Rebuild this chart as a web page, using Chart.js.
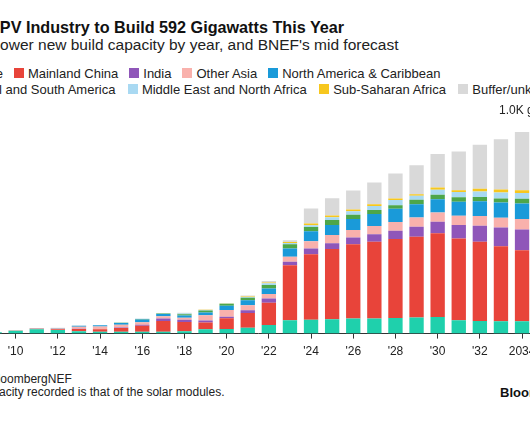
<!DOCTYPE html>
<html>
<head>
<meta charset="utf-8">
<script src="https://cdn.jsdelivr.net/npm/chart.js@4"></script>
<style>
  html, body { margin: 0; padding: 0; background: #fff; }
  body { width: 530px; height: 442px; overflow: hidden; position: relative;
         font-family: "Liberation Sans", Arial, sans-serif; color: #111; }
  #page { position: absolute; left: -55px; top: 0; width: 700px; height: 442px; }
  .txt { position: absolute; white-space: nowrap; line-height: 1; }
  #title { top: 19px; left: 0; font-size: 16.2px; font-weight: bold; }
  #subtitle { top: 37px; left: 6px; font-size: 15.5px; color: #222; }
  .legendRow { position: absolute; height: 16px; display: flex; align-items: center;
               font-size: 13px; color: #222; white-space: nowrap; }
  .item { display: flex; align-items: center; }
  #row1 .item { margin-right: 11px; }
  #row2 .item { margin-right: 12.5px; }
  .sw { width: 10px; height: 10px; margin-right: 4px; }
  #src { top: 373px; left: 0; font-size: 12px; color: #222; }
  #note { top: 386px; left: 0; font-size: 12px; color: #222; }
  #logo { position: absolute; top: 386px; left: 500px; font-size: 13px; font-weight: bold;
          line-height: 1; white-space: nowrap; color: #111; }
  #wrap { position: absolute; left: -16px; top: 100px; width: 620px; height: 265px; }
</style>
</head>
<body>
<div id="page">
  <div id="title" class="txt">Global PV Industry to Build 592 Gigawatts This Year</div>
  <div id="subtitle" class="txt">Solar power new build capacity by year, and BNEF's mid forecast</div>
  <div id="row1" class="legendRow" style="top:65px; left:2px"></div>
  <div id="row2" class="legendRow" style="top:81px; left:1px"></div>
  <div id="src" class="txt">Source: BloombergNEF</div>
  <div id="note" class="txt">Note: Capacity recorded is that of the solar modules.</div>
</div>
<div id="logo">Bloomberg</div>
<div id="wrap"><canvas id="solarChart" width="620" height="265"></canvas></div>

<script>
const years = [2009, 2010, 2011, 2012, 2013, 2014, 2015, 2016, 2017, 2018, 2019, 2020, 2021,
               2022, 2023, 2024, 2025, 2026, 2027, 2028, 2029, 2030, 2031, 2032, 2033, 2034];

// gigawatts per year
const europe       = [6, 14, 21, 17, 11, 9, 9, 9, 9, 11, 21, 22, 28, 41, 63, 66, 68, 71, 71, 74, 76, 79, 63, 60, 58, 58];
const china        = [0, 0.5, 2, 3, 11, 11, 18, 28, 51, 44, 31, 51, 69, 105, 260, 309, 332, 351, 363, 373, 382, 395, 387, 374, 355, 336];
const india        = [0, 0, 0, 1, 1, 1, 2, 5, 11, 11, 10, 7, 13, 20, 16, 27, 27, 32, 36, 39, 47, 55, 63, 76, 88, 98];
const otherAsia    = [0, 0, 1, 3, 9, 12, 13, 12, 11, 9, 25, 32, 24, 21, 24, 35, 39, 36, 38, 41, 44, 43, 44, 46, 46, 49];
const northAmerica = [0, 0, 1, 3, 5, 6, 8, 13, 11, 11, 13, 20, 24, 26, 39, 47, 47, 51, 57, 63, 62, 63, 66, 69, 73, 74];
const latAm        = [0, 0, 0, 0, 0, 0, 1, 2, 2, 6, 9, 9, 11, 17, 20, 20, 24, 21, 19, 17, 21, 21, 21, 21, 19, 22];
const mena         = [0, 0, 0, 0, 0, 0, 1, 1, 1, 4, 3, 1, 4, 8, 6, 8, 13, 16, 19, 24, 19, 24, 25, 25, 28, 28];
const subSaharan   = [0, 0, 0, 0, 0, 0, 0, 0, 0, 1, 1, 1, 2, 3, 5, 8, 8, 8, 8, 8, 8, 11, 9, 13, 14, 13];
const buffer       = [1, 1, 2, 1, 1, 1, 1, 1, 1, 2, 1, 1, 5, 8, 8, 71, 82, 90, 103, 118, 137, 158, 182, 208, 237, 275];

const seriesNames = ['Europe', 'Mainland China', 'India', 'Other Asia', 'North America & Caribbean',
                     'Central and South America', 'Middle East and North Africa', 'Sub-Saharan Africa', 'Buffer/unknown'];
const seriesData = [europe, china, india, otherAsia, northAmerica, latAm, mena, subSaharan, buffer];
const seriesColors = ['#1fd0ac', '#e8443a', '#8f56b9', '#f9b1ac', '#1a9ad9',
                      '#4da64a', '#a9d9f2', '#f7c71e', '#d9d9d9'];

// html legend, two rows like the original
seriesNames.forEach((name, i) => {
    const row = document.getElementById(i < 5 ? 'row1' : 'row2');
    const item = document.createElement('div');
    item.className = 'item';
    item.innerHTML = '<div class="sw" style="background:' + seriesColors[i] + '"></div>' + name;
    row.appendChild(item);
});

const topLabel = {
    id: 'topLabel',
    afterDraw(chart) {
        const ctx = chart.ctx;
        const y = chart.scales.y.getPixelForValue(1000);
        ctx.save();
        ctx.font = '12px "Liberation Sans", Arial, sans-serif';
        ctx.fillStyle = '#222';
        ctx.textBaseline = 'alphabetic';
        ctx.fillText('1.0K gigawatts', 515, y - 8.5);
        ctx.restore();
    }
};

const ctx = document.getElementById('solarChart').getContext('2d');
const solarChart = new Chart(ctx, {
    type: 'bar',
    data: {
        labels: years,
        datasets: seriesNames.map((name, i) => ({
            label: name,
            data: seriesData[i],
            backgroundColor: seriesColors[i],
            borderWidth: 0,
            barPercentage: 0.68,
            categoryPercentage: 1
        }))
    },
    options: {
        responsive: false,
        animation: false,
        layout: { padding: { top: 22, right: 71.4, left: 0, bottom: 0 } },
        plugins: {
            legend: { display: false },
            tooltip: { enabled: false }
        },
        scales: {
            x: {
                stacked: true,
                offset: true,
                grid: {
                    offset: false,
                    drawOnChartArea: false,
                    drawTicks: true,
                    tickLength: 5,
                    tickColor: (c) => (years[c.index] % 2 === 0 ? '#333' : 'rgba(0,0,0,0)')
                },
                border: { display: true, color: '#333', width: 1 },
                ticks: {
                    autoSkip: false,
                    maxRotation: 0,
                    padding: 6,
                    color: '#222',
                    font: { family: '"Liberation Sans", Arial, sans-serif', size: 12 },
                    callback: function (value, index) {
                        const yr = years[index];
                        if (yr % 2 !== 0) return '';
                        return yr === 2034 ? '2034' : "'" + String(yr).slice(2);
                    }
                }
            },
            y: {
                stacked: true,
                display: false,
                min: 0,
                max: 1000
            }
        }
    },
    plugins: [topLabel]
});
</script>
</body>
</html>
